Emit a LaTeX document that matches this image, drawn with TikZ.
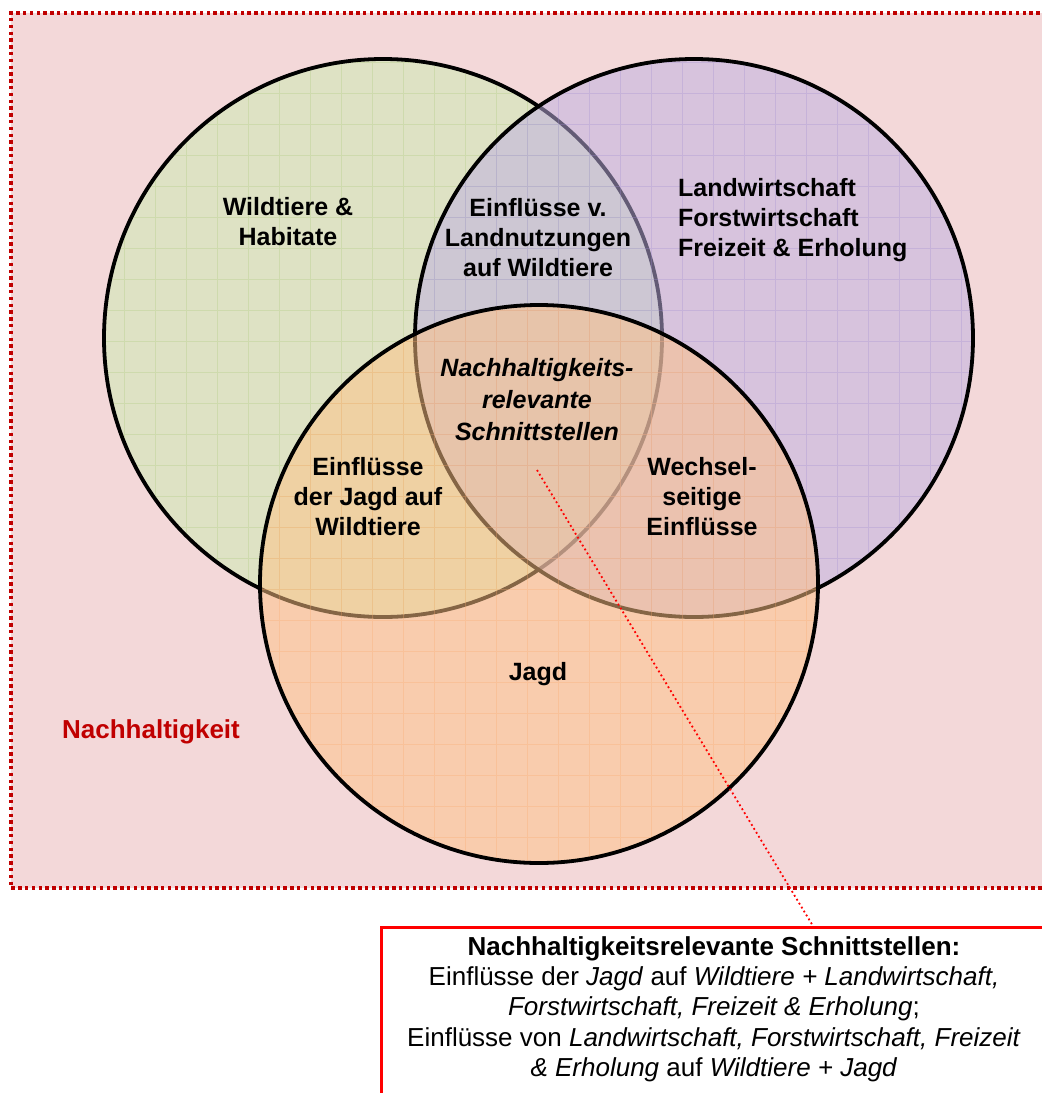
\documentclass[tikz,border=0pt]{standalone}
\usepackage{fontspec}
\setmainfont{Liberation Sans}
\definecolor{bgpink}{RGB}{243,216,217}
\definecolor{framered}{RGB}{192,0,0}
\definecolor{cgreen}{RGB}{204,236,178}
\definecolor{cpurple}{RGB}{190,176,226}
\definecolor{corange}{RGB}{255,194,134}
\definecolor{ggrid}{RGB}{170,200,120}
\definecolor{pgrid}{RGB}{160,140,210}
\definecolor{ogrid}{RGB}{250,170,110}
\definecolor{labelred}{RGB}{192,0,0}
\begin{document}
\begin{tikzpicture}[x=1pt,y=-1pt,
  venn/.style={circle, inner sep=0pt, outer sep=0pt, minimum size=558pt,
    draw=black, line width=3.8pt, fill opacity=0.52, draw opacity=1},
  lbl/.style={font=\fontsize{25}{30}\selectfont\bfseries, align=center, inner sep=0pt},
  lblleft/.style={font=\fontsize{25}{30}\selectfont\bfseries, align=left, inner sep=0pt},
  boxtxt/.style={font=\fontsize{26}{30.3}\selectfont, align=center, inner sep=0pt},
  gridline/.style={line width=0.8pt, opacity=0.3},
  pointer/.style={red, line width=1.8pt, dash pattern=on 1.8pt off 2.8pt},
  infobox/.style={draw=red, line width=2.6pt, inner sep=0pt, minimum width=700pt,
    minimum height=200pt, anchor=north west}]
\clip (0,0) rectangle (1042,1093);
\fill[white] (0,0) rectangle (1042,1093);
% background frame
\fill[bgpink] (11,13) rectangle (1060,888);
\draw[framered, line width=3.6pt, dash pattern=on 3.4pt off 3.4pt]
  (1060,13) -- (11,13) -- (11,888) -- (1060,888);
% circles
\node[venn, fill=cgreen] (wild) at (383,338) {};
\begin{scope}
  \clip (383,338) circle (277pt);
  \draw[gridline, draw=ggrid, step=31pt] (0,0) grid (1042,1093);
\end{scope}
\node[venn, fill=cpurple] (land) at (694,338) {};
\begin{scope}
  \clip (694,338) circle (277pt);
  \draw[gridline, draw=pgrid, step=31pt] (0,0) grid (1042,1093);
\end{scope}
\node[venn, fill=corange] (jagd) at (539,584) {};
\begin{scope}
  \clip (539,584) circle (277pt);
  \draw[gridline, draw=ogrid, step=31pt] (0,0) grid (1042,1093);
\end{scope}
% labels
\node[lbl] (t1) at (288,222) {Wildtiere \&\\Habitate};
\node[lbl] (t2) at (538,238) {Einflüsse v.\\Landnutzungen\\auf Wildtiere};
\node[lblleft, anchor=west] (t3) at (678,220) {Landwirtschaft\\Forstwirtschaft\\Freizeit \& Erholung};
\node[lbl, font=\fontsize{25}{32}\selectfont\bfseries\itshape] (t4) at (537,400)
  {Nachhaltigkeits-\\relevante\\Schnittstellen};
\node[lbl] (t5) at (368,497) {Einflüsse\\der Jagd auf\\Wildtiere};
\node[lbl] (t6) at (702,497) {Wechsel-\\seitige\\Einflüsse};
\node[lbl] (t7) at (538,674) {Jagd};
\node[lbl, text=labelred, font=\fontsize{26}{30}\selectfont\bfseries] (t8) at (151,732) {Nachhaltigkeit};
% pointer and box
\coordinate (ptrA) at (537,470);
\coordinate (ptrB) at (813,926);
\draw[pointer] (ptrA) -- (ptrB);
\node[infobox] (box) at (380,926) {};
\node[boxtxt] (boxtext) at (714,1009)
  {\textbf{Nachhaltigkeitsrelevante Schnittstellen:}\\
   Einflüsse der \textit{Jagd} auf \textit{Wildtiere + Landwirtschaft,}\\
   \textit{Forstwirtschaft, Freizeit \& Erholung};\\
   Einflüsse von \textit{Landwirtschaft, Forstwirtschaft, Freizeit}\\
   \textit{\& Erholung} auf \textit{Wildtiere + Jagd}};
\end{tikzpicture}
\end{document}
